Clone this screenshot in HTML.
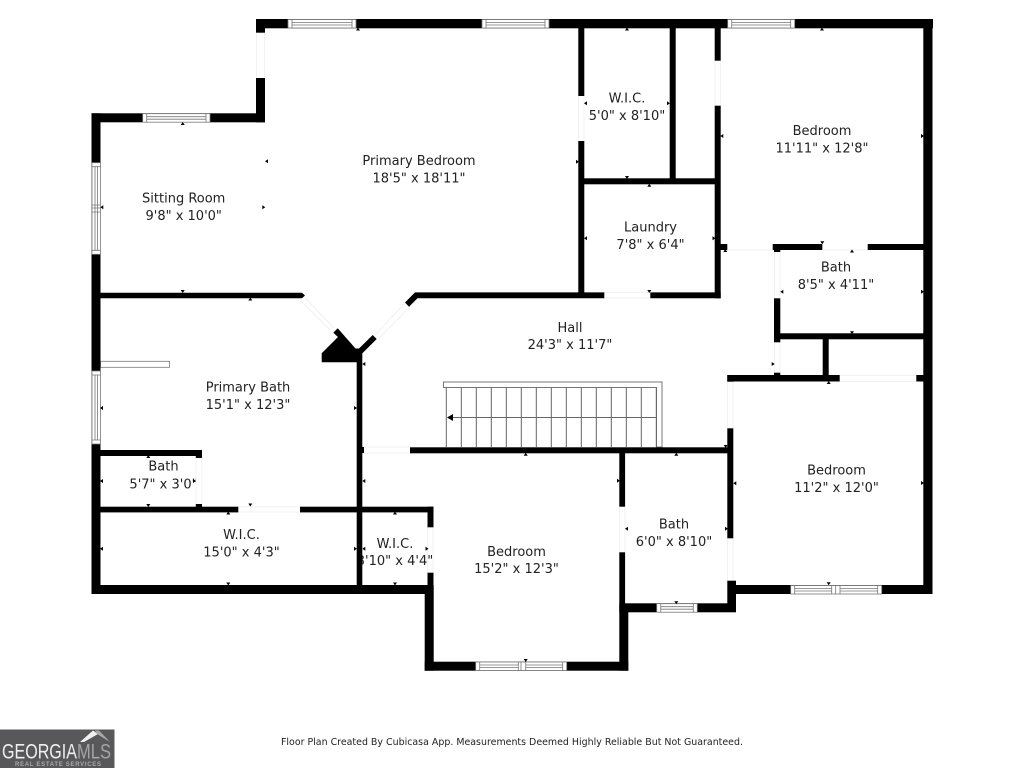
<!DOCTYPE html>
<html><head><meta charset="utf-8"><title>Floor Plan</title>
<style>
html,body{margin:0;padding:0;background:#fff;width:1024px;height:768px;overflow:hidden}
svg{display:block}
.l text{font-family:"DejaVu Sans","Liberation Sans",sans-serif;font-size:13px;fill:#222;text-anchor:middle}
.w rect{fill:#fff;stroke:#777;stroke-width:.8}
.w path{fill:none;stroke:#777;stroke-width:.8}
</style></head><body>
<svg width="1024" height="768" viewBox="0 0 1024 768" xmlns="http://www.w3.org/2000/svg">
<rect width="1024" height="768" fill="#fff"/>

<!-- labels -->
<g class="l">
<text x="183.7" y="202.5">Sitting Room</text><text x="183.7" y="220">9'8" x 10'0"</text>
<text x="419" y="165">Primary Bedroom</text><text x="419" y="182.5">18'5" x 18'11"</text>
<text x="627" y="102.5">W.I.C.</text><text x="627" y="120">5'0" x 8'10"</text>
<text x="822" y="135">Bedroom</text><text x="822" y="152.5">11'11" x 12'8"</text>
<text x="650.5" y="231.5">Laundry</text><text x="650.5" y="249">7'8" x 6'4"</text>
<text x="836" y="271.5">Bath</text><text x="836" y="289">8'5" x 4'11"</text>
<text x="570" y="332">Hall</text><text x="570" y="349">24'3" x 11'7"</text>
<text x="248" y="391.5">Primary Bath</text><text x="248" y="409">15'1" x 12'3"</text>
<text x="163.5" y="470.5">Bath</text><text x="163.5" y="488.5">5'7" x 3'0"</text>
<text x="241.5" y="539">W.I.C.</text><text x="241.5" y="556.5">15'0" x 4'3"</text>
<text x="395" y="548">W.I.C.</text><text x="395" y="565">3'10" x 4'4"</text>
<text x="516.5" y="556">Bedroom</text><text x="516.5" y="573">15'2" x 12'3"</text>
<text x="674" y="528.5">Bath</text><text x="674" y="546">6'0" x 8'10"</text>
<text x="836.5" y="474.5">Bedroom</text><text x="836.5" y="492">11'2" x 12'0"</text>
</g>

<!-- faint door lines -->
<g fill="none" stroke="#f1f1f1" stroke-width="1">
<path d="M256.5 33V78M264.5 33V78"/>
<path d="M305 298L334 328M301 301L331 331"/>
<path d="M405 303L375 335M410 307L379 338"/>
<path d="M364 447H410M364 453H410"/>
<path d="M578.5 96V141M584 96V141"/>
<path d="M715 61V106M720.5 61V106"/>
<path d="M604 292.5H650M604 298H650"/>
<path d="M727 250H773M822 250H868"/>
<path d="M774.5 252V298M780 252V298M774.5 342V373M780 342V373"/>
<path d="M840 375.5H916M840 381.5H916"/>
<path d="M727.5 382V428M733 382V428M727.5 538V581M733 538V581"/>
<path d="M619.5 507V552M625 507V552"/>
<path d="M196 458V504M202 458V504"/>
<path d="M238 507H300M238 512H300"/>
<path d="M427.5 527V573M433 527V573"/>
</g>

<!-- stairs -->
<g fill="none" stroke="#666" stroke-width="1">
<path d="M443.5 382H662V447H656.5V387.5H443.5Z" fill="#fff" stroke="#777"/>
<path d="M446.3 387.5V447M461.3 387.5V447M476.3 387.5V447M491.3 387.5V447M506.3 387.5V447M521.3 387.5V447M536.3 387.5V447M551.3 387.5V447M566.3 387.5V447M581.3 387.5V447M596.3 387.5V447M611.3 387.5V447M626.3 387.5V447M641.3 387.5V447M656.3 387.5V447"/>
<path d="M450 417.5H656.5"/>
</g>
<path d="M447 417.5L453 414V421Z" fill="#000"/>

<!-- closet shelf -->
<rect x="100.5" y="361.3" width="69" height="6" fill="#fff" stroke="#777" stroke-width=".8"/>

<!-- walls -->
<g fill="#000">
<rect x="256" y="19" width="677" height="9.3"/>
<rect x="256" y="19" width="9" height="13.7"/>
<rect x="256" y="78" width="9" height="44.3"/>
<rect x="91.5" y="113.3" width="173.5" height="9"/>
<rect x="91.5" y="113.3" width="9" height="480.7"/>
<rect x="91.5" y="585" width="342" height="9"/>
<path d="M100 292.7H302L305 295.5L302 298.3H100Z"/>
<path d="M415 292.4H604.3V298.3H417.5L409 306.8L405 302.5Z"/>
<path d="M650.3 292.4H720.7V298.3H650.3Z"/>
<path d="M337.7 328.3L333.3 332.7L338 337L321.7 353.3V362.3H356.7V594H362.3V353.4L376.7 339L372.7 335L359 348.5H355.5Z"/>
<rect x="362" y="447" width="2" height="6"/>
<rect x="410" y="447.3" width="323" height="6"/>
<rect x="100" y="450" width="102" height="6"/>
<rect x="195.8" y="450" width="6.2" height="8"/>
<rect x="195.8" y="504" width="6.2" height="4"/>
<rect x="100" y="506.7" width="138.3" height="5.7"/>
<rect x="300" y="506.7" width="133.5" height="5.7"/>
<rect x="427.5" y="506.7" width="6" height="20.6"/>
<rect x="427.5" y="572.7" width="6" height="14"/>
<rect x="424.7" y="585" width="9" height="85.7"/>
<rect x="424.7" y="661.7" width="203.6" height="9"/>
<rect x="619.3" y="552.3" width="5.8" height="60"/>
<rect x="619.3" y="612" width="9" height="58.7"/>
<rect x="619.3" y="450" width="5.8" height="56.7"/>
<rect x="619.3" y="603.3" width="116.7" height="9"/>
<rect x="727.3" y="580.7" width="8.7" height="31"/>
<rect x="727.3" y="428.3" width="6" height="110"/>
<rect x="727.3" y="375" width="6" height="6.7"/>
<rect x="727.3" y="375" width="112.4" height="6.5"/>
<rect x="916.3" y="375" width="8" height="6.5"/>
<rect x="733" y="585" width="190.5" height="9"/>
<rect x="923.3" y="19" width="9.2" height="575"/>
<rect x="578.3" y="19" width="6" height="77"/>
<rect x="578.3" y="141" width="6" height="155"/>
<rect x="669.7" y="19" width="6" height="162"/>
<rect x="714.7" y="19" width="6" height="41.7"/>
<rect x="714.7" y="105.7" width="6" height="192.6"/>
<rect x="584" y="178.3" width="131" height="6"/>
<rect x="720" y="244" width="7.3" height="6"/>
<rect x="772.7" y="244" width="49.6" height="6"/>
<rect x="867.7" y="244" width="56" height="6"/>
<rect x="774" y="244" width="6.3" height="8"/>
<rect x="774" y="298.3" width="6.3" height="44"/>
<rect x="774" y="333.3" width="150" height="6"/>
<rect x="822.7" y="339" width="6" height="37"/>
<rect x="774" y="372.7" width="6.3" height="3"/>
</g>

<!-- windows -->
<g class="w">
<rect x="288" y="19.5" width="68" height="8.5"/><path d="M292 19.5V28M352 19.5V28M292 22.5H352M292 25H352"/>
<rect x="482" y="19.5" width="67" height="8.5"/><path d="M486 19.5V28M545 19.5V28M486 22.5H545M486 25H545"/>
<rect x="727.7" y="19.5" width="67" height="8.5"/><path d="M731.7 19.5V28M790.7 19.5V28M731.7 22.5H790.7M731.7 25H790.7"/>
<rect x="142.7" y="113.7" width="67.3" height="8.5"/><path d="M146.7 113.7V122.2M206 113.7V122.2M146.7 116.7H206M146.7 119.2H206"/>
<rect x="92" y="162.7" width="8.5" height="91.6"/><path d="M92 166.7H100.5M92 250.3H100.5M92 205H100.5M92 208H100.5M92 212H100.5M95 166.7V250.3M97.5 166.7V250.3"/>
<rect x="92" y="371" width="8.5" height="73"/><path d="M92 375H100.5M92 440H100.5M95 375V440M97.5 375V440"/>
<rect x="475.7" y="662" width="91" height="8.5"/><path d="M479.7 662V670.5M562.7 662V670.5M518.3 662V670.5M521 662V670.5M525.7 662V670.5M479.7 665H518.3M479.7 667.5H518.3M525.7 665H562.7M525.7 667.5H562.7"/>
<rect x="790.7" y="585.5" width="91" height="8.5"/><path d="M794.7 585.5V594M877.7 585.5V594M831.7 585.5V594M835.7 585.5V594M840 585.5V594M794.7 588.5H831.7M794.7 591H831.7M840 588.5H877.7M840 591H877.7"/>
<rect x="656.7" y="603.7" width="40.6" height="8.5"/><path d="M660.7 603.7V612.2M693.3 603.7V612.2M660.7 606.7H693.3M660.7 609.2H693.3"/>
</g>

<!-- dimension arrows -->
<path fill="#000" d="
M182.7 122l2 3h-4z M358 27.5l2 3h-4z M250.3 297.5l2 3h-4z M148.3 455l2 3h-4z M228.3 511.5l2 3h-4z M395 511.5l2 3h-4z M627 27.5l2 3h-4z M649.3 183.7l2 3h-4z M822 27.5l2 3h-4z M725.3 249l2 3h-4z M852 249.5l2 3h-4z M828.7 381l2 3h-4z M525.7 452.7l2 3h-4z M676.3 452.7l2 3h-4z
M182.7 293l2 -3h-4z M148.3 507l2 -3h-4z M250.3 506.5l2 -3h-4z M228.3 585.5l2 -3h-4z M395 585.5l2 -3h-4z M627 179l2 -3h-4z M649.3 293l2 -3h-4z M822.3 244.3l2 -3h-4z M852 334.3l2 -3h-4z M725.7 448l2 -3h-4z M676.3 604.3l2 -3h-4z M525.7 662l2 -3h-4z M828.7 585.3l2 -3h-4z
M265 161.3l3 2v-4z M100.3 207.3l3 2v-4z M100 408l3 2v-4z M362.3 364l3 2v-4z M100 481l3 2v-4z M100 548.7l3 2v-4z M362.3 548.7l3 2v-4z M362.3 481l3 2v-4z M584 103.3l3 2v-4z M584 238.3l3 2v-4z M720.3 136l3 2v-4z M780.3 291.7l3 2v-4z M733.3 483.3l3 2v-4z M625 528.7l3 2v-4z
M265.3 207.3l-3 2v-4z M357 408l-3 2v-4z M196 481l-3 2v-4z M357 548.7l-3 2v-4z M428.5 548.7l-3 2v-4z M670 103.3l-3 2v-4z M579 161.7l-3 2v-4z M715.5 238.3l-3 2v-4z M924 136l-3 2v-4z M924 291.7l-3 2v-4z M774.7 364l-3 2v-4z M620 480.7l-3 2v-4z M728 528.7l-3 2v-4z M924 483l-3 2v-4z"/>

<!-- footer -->
<text x="512" y="745" font-family="'DejaVu Sans','Liberation Sans',sans-serif" font-size="10" fill="#222" text-anchor="middle" textLength="462" lengthAdjust="spacingAndGlyphs">Floor Plan Created By Cubicasa App. Measurements Deemed Highly Reliable But Not Guaranteed.</text>

<!-- logo -->
<rect x="0" y="729.5" width="114.5" height="38.5" fill="#58585a"/>
<path d="M80 742L93 730.5L98 734L84 742Z" fill="#f0f0f0"/>
<path d="M95 730.5H99L110 742L97 734Z" fill="#a8a8a8"/>
<text x="2" y="758.5" font-family="'Liberation Sans',sans-serif" font-size="21" fill="#efefef" textLength="75" lengthAdjust="spacingAndGlyphs">GEORGIA</text>
<text x="77" y="758.5" font-family="'Liberation Sans',sans-serif" font-size="21" fill="#a5a5a7" textLength="34" lengthAdjust="spacingAndGlyphs">MLS</text>
<text x="15" y="766" font-family="'Liberation Sans',sans-serif" font-size="6" font-weight="bold" fill="#aaa" textLength="86">REAL ESTATE SERVICES</text>
</svg>
</body></html>
